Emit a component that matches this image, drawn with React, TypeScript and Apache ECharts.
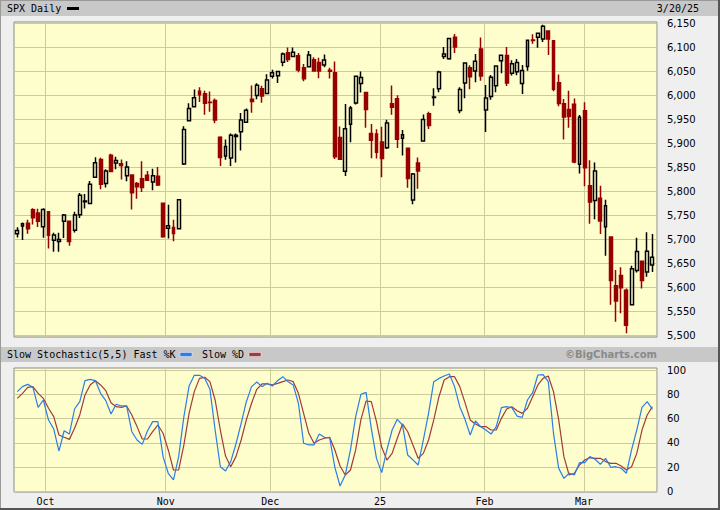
import React, { useEffect, useRef } from "react";
import * as echarts from "echarts";

const dates = [
  "2024-09-23","2024-09-24","2024-09-25","2024-09-26","2024-09-27","2024-09-30",
  "2024-10-01","2024-10-02","2024-10-03","2024-10-04","2024-10-07","2024-10-08","2024-10-09","2024-10-10","2024-10-11","2024-10-14","2024-10-15","2024-10-16","2024-10-17","2024-10-18","2024-10-21","2024-10-22","2024-10-23","2024-10-24","2024-10-25","2024-10-28","2024-10-29","2024-10-30","2024-10-31",
  "2024-11-01","2024-11-04","2024-11-05","2024-11-06","2024-11-07","2024-11-08","2024-11-11","2024-11-12","2024-11-13","2024-11-14","2024-11-15","2024-11-18","2024-11-19","2024-11-20","2024-11-21","2024-11-22","2024-11-25","2024-11-26","2024-11-27","2024-11-29",
  "2024-12-02","2024-12-03","2024-12-04","2024-12-05","2024-12-06","2024-12-09","2024-12-10","2024-12-11","2024-12-12","2024-12-13","2024-12-16","2024-12-17","2024-12-18","2024-12-19","2024-12-20","2024-12-23","2024-12-24","2024-12-26","2024-12-27","2024-12-30","2024-12-31",
  "2025-01-02","2025-01-03","2025-01-06","2025-01-07","2025-01-08","2025-01-10","2025-01-13","2025-01-14","2025-01-15","2025-01-16","2025-01-17","2025-01-21","2025-01-22","2025-01-23","2025-01-24","2025-01-27","2025-01-28","2025-01-29","2025-01-30","2025-01-31",
  "2025-02-03","2025-02-04","2025-02-05","2025-02-06","2025-02-07","2025-02-10","2025-02-11","2025-02-12","2025-02-13","2025-02-14","2025-02-18","2025-02-19","2025-02-20","2025-02-21","2025-02-24","2025-02-25","2025-02-26","2025-02-27","2025-02-28",
  "2025-03-03","2025-03-04","2025-03-05","2025-03-06","2025-03-07","2025-03-10","2025-03-11","2025-03-12","2025-03-13","2025-03-14","2025-03-17","2025-03-18","2025-03-19","2025-03-20"
];

const opens = [
  5711.9,5727.9,5733.6,5762.2,5755.4,5726.5,
  5757.7,5698.2,5695.7,5737.8,5737.8,5719.1,5751.8,5778.4,5775.1,5829.8,5866.7,5816.6,5875.6,5859.4,5857.8,5832.7,5834.5,5816.6,5826.8,5833.9,5819.7,5832.0,5775.3,
  5723.2,5725.2,5722.4,5857.4,5947.2,5976.8,6008.9,6003.6,5985.7,5989.6,5912.8,5874.2,5870.0,5914.6,5924.4,5944.4,5992.3,6000.0,6014.1,6004.0,
  6040.1,6041.0,6069.4,6089.0,6081.4,6083.0,6057.6,6060.1,6074.3,6068.9,6063.8,6052.6,6047.6,5912.7,5842.0,5940.3,5984.6,6025.0,6006.2,5920.7,5919.7,
  5903.3,5891.1,5982.8,5993.3,5910.7,5890.0,5782.3,5859.4,5905.2,5962.0,5995.9,6014.1,6081.4,6076.4,6121.4,5969.0,6026.0,6057.7,6050.8,6096.8,
  5969.7,5998.1,6020.5,6072.2,6083.1,6046.4,6049.3,6025.1,6060.6,6115.5,6121.6,6117.8,6134.5,6114.1,6026.7,5982.7,5970.9,5981.9,5856.7,
  5968.3,5812.0,5781.4,5785.9,5726.6,5705.4,5603.7,5624.8,5594.4,5563.9,5635.6,5654.5,5632.4,5646.9
];

const highs = [
  5725.4,5735.3,5741.0,5765.0,5764.0,5765.1,
  5757.7,5714.0,5714.1,5753.0,5739.3,5757.6,5796.8,5795.0,5822.1,5871.4,5870.4,5846.5,5878.5,5872.2,5866.9,5863.0,5834.9,5820.0,5862.8,5842.9,5847.2,5850.9,5775.3,
  5772.5,5741.4,5783.4,5936.1,5983.8,6012.5,6017.3,6009.9,6008.2,5993.9,5915.3,5908.1,5920.7,5920.7,5963.4,5972.9,6020.8,6025.4,6020.2,6044.2,
  6053.6,6050.9,6089.8,6100.0,6100.0,6088.5,6065.4,6092.6,6079.7,6078.6,6085.2,6057.7,6070.7,5935.5,5982.1,5978.3,6040.1,6049.8,6006.2,5940.8,5929.7,
  5935.1,5949.3,6021.0,6000.7,5927.9,5890.7,5838.7,5871.0,5960.6,5966.0,6015.0,6051.5,6100.8,6118.7,6128.2,6017.2,6069.1,6062.8,6086.6,6120.9,
  6022.1,6042.5,6062.9,6084.0,6101.3,6073.4,6076.3,6063.4,6116.9,6127.5,6129.6,6147.4,6134.5,6114.8,6043.6,5992.6,6009.8,5993.7,5959.4,
  5986.1,5865.1,5860.6,5812.1,5783.0,5705.4,5636.3,5642.2,5597.8,5645.3,5703.5,5654.5,5715.3,5711.2
];

const lows = [
  5704.2,5699.0,5712.0,5731.0,5726.0,5703.5,
  5681.3,5674.5,5674.5,5703.0,5686.9,5714.6,5745.0,5764.8,5775.1,5829.8,5804.5,5808.3,5840.3,5846.1,5824.8,5821.2,5762.4,5784.9,5799.0,5823.1,5802.6,5811.3,5703.9,
  5702.0,5696.5,5722.1,5855.0,5947.2,5976.8,5986.7,5960.0,5965.9,5942.3,5853.0,5865.9,5853.0,5860.6,5885.4,5944.4,5963.9,5992.3,5984.9,6004.0,
  6035.3,6026.3,6061.1,6070.0,6080.0,6048.6,6029.9,6060.1,6051.3,6035.8,6059.1,6035.2,5867.8,5866.1,5832.3,5902.6,5981.4,6006.2,5932.9,5869.2,5868.9,
  5829.5,5888.7,5960.0,5890.7,5874.8,5807.8,5773.3,5805.5,5905.2,5930.2,5978.4,6006.9,6076.1,6074.7,6088.7,5962.9,5994.3,6013.0,6027.5,6030.9,
  5923.9,5990.9,6007.0,6046.3,6020.0,6041.7,6042.3,6003.0,6051.7,6107.6,6099.5,6111.2,6084.6,6008.6,5977.8,5908.5,5932.7,5858.8,5837.7,
  5810.9,5732.6,5742.4,5711.6,5666.3,5564.0,5528.4,5546.1,5504.7,5563.9,5631.1,5597.8,5622.2,5632.4
];

const closes = [
  5718.6,5732.9,5722.3,5745.4,5738.2,5762.5,
  5708.8,5709.5,5699.9,5751.1,5695.9,5751.1,5792.0,5780.1,5815.0,5859.9,5815.3,5842.5,5841.5,5864.7,5854.0,5851.2,5797.4,5809.9,5808.1,5823.5,5832.9,5813.7,5705.5,
  5728.8,5712.7,5782.8,5929.0,5973.1,5995.5,6001.4,5984.0,5985.4,5949.2,5870.6,5893.6,5917.0,5917.1,5948.7,5969.3,5987.4,6021.6,5998.7,6032.4,
  6047.2,6049.9,6086.5,6075.1,6090.3,6052.9,6034.9,6084.2,6051.3,6051.1,6074.1,6050.6,5872.2,5867.1,5930.9,5974.1,6040.0,6037.6,5970.8,5906.9,5881.6,
  5868.6,5942.5,5975.4,5909.0,5918.3,5827.0,5836.2,5842.9,5949.9,5937.3,5996.7,6049.2,6086.4,6118.7,6101.2,6012.3,6067.7,6039.3,6071.2,6040.5,
  5994.6,6037.9,6061.5,6083.6,6026.0,6066.4,6068.5,6052.0,6115.1,6114.6,6129.6,6144.2,6117.5,6013.1,5983.3,5955.3,5956.1,5861.6,5954.5,
  5849.7,5778.2,5842.6,5738.5,5770.2,5614.6,5572.1,5599.3,5521.5,5638.9,5675.1,5614.7,5675.3,5662.9
];

const fastK = [
  82.2,86.3,88.2,85.7,69.3,75.3,58.8,51.4,33.3,50.0,47.3,67.9,73.9,91.2,92.3,91.2,80.8,74.8,63.8,71.8,
  70.4,70.4,49.2,42.4,38.8,49.8,57.5,57.5,28.7,15.0,9.5,28.7,61.6,86.8,95.6,95.6,93.2,84.1,50.6,20.4,
  16.9,24.6,39.1,56.1,73.9,86.3,90.1,86.3,89.0,86.8,91.2,94.5,90.4,87.7,72.6,39.7,38.3,38.3,47.3,44.6,
  44.3,19.9,4.5,13.6,34.2,61.6,80.0,81.6,52.0,27.3,15.5,34.2,50.6,59.4,54.7,30.0,26.0,21.8,42.4,64.3,
  90.4,93.1,95.1,96.7,86.3,69.8,59.4,46.5,58.0,53.4,50.6,47.3,53.4,69.0,69.8,69.0,62.1,61.0,75.3,81.3,
  95.9,96.2,90.4,47.9,19.1,10.8,15.0,13.6,23.7,23.7,28.7,26.5,22.4,27.3,19.9,20.4,19.1,15.0,34.2,50.6,
  69.3,73.9,67.6
];

const slowD = [
  76.7,80.8,85.7,86.3,80.8,76.7,68.5,61.6,46.5,44.6,42.9,52.0,63.0,79.4,87.7,91.2,87.7,83.0,73.1,69.8,
  69.3,70.4,63.0,53.4,43.2,43.2,49.2,54.7,47.9,34.2,17.7,17.7,38.3,64.3,82.2,93.1,94.0,90.4,75.3,50.6,
  29.2,20.4,28.7,42.4,58.9,72.6,84.1,88.5,88.5,87.7,89.0,90.4,91.8,90.4,80.8,64.3,47.9,39.7,42.4,43.8,
  44.6,34.2,21.0,13.6,17.7,34.2,58.9,74.5,73.9,57.5,36.4,25.9,31.4,43.8,55.6,49.2,38.3,27.3,31.4,42.4,
  58.9,78.0,91.8,94.5,94.5,86.3,73.1,58.9,55.6,53.4,53.4,50.6,50.6,60.2,67.9,69.8,66.5,64.3,68.5,78.0,
  87.7,93.1,95.1,82.2,58.9,28.7,13.6,15.0,21.8,25.9,27.9,27.3,27.3,24.6,23.2,23.2,21.0,17.7,20.4,31.4,
  50.6,63.0,69.8
];

const monthLabels: { [d: string]: string } = {
  "2024-10-01": "Oct",
  "2024-11-01": "Nov",
  "2024-12-02": "Dec",
  "2025-01-02": "25",
  "2025-02-03": "Feb",
  "2025-03-03": "Mar"
};

const priceMin = 5500;
const priceMax = 6150;
const priceStep = 50;
const stochMin = 0;
const stochMax = 100;
const stochStep = 20;

export default function App() {
  const ref = useRef<HTMLDivElement>(null);

  useEffect(() => {
    document.body.style.margin = "0";
    const chart = echarts.init(ref.current as HTMLDivElement, null, {
      renderer: "svg",
      width: 720,
      height: 510
    });

    const isMonthStart = (i: number) => monthLabels[dates[i]] !== undefined;
    const gridColor = "#cbcb9b";
    const plotBg = "#fefdcc";
    const mono = '"DejaVu Sans Mono", monospace';
    const sans = '"DejaVu Sans", sans-serif';
    const PL = 14;
    const PW = 643;
    const CL = 14.7;
    const CW = 640.3;
    const blue = "#2a7ee6";
    const red = "#a23b3b";

    const hiddenCat = (g: number) => ({
      type: "category",
      gridIndex: g,
      data: dates,
      boundaryGap: true,
      show: false
    });
    const monthCat = (g: number, labels: boolean) => ({
      type: "category",
      gridIndex: g,
      data: dates,
      boundaryGap: true,
      axisLine: { show: false },
      axisTick: { show: false },
      axisLabel: labels
        ? {
            show: true,
            interval: (i: number) => isMonthStart(i),
            formatter: (v: string) => "{m|" + (monthLabels[v] || "") + "}",
            margin: 4,
            rich: {
              m: {
                fontFamily: mono,
                fontSize: 10,
                color: "#000",
                padding: [0, 5, 0, 0]
              }
            }
          }
        : { show: false },
      splitLine: {
        show: true,
        interval: (i: number) => isMonthStart(i),
        lineStyle: { color: gridColor, width: 1 }
      }
    });

    const option = {
      animation: false,
      backgroundColor: "#efefef",
      grid: [
        { left: PL, top: 22, width: PW, height: 315, show: true, backgroundColor: plotBg, borderColor: "#8a8a8a", borderWidth: 1 },
        { left: PL, top: 23.5, width: PW, height: 312 },
        { left: CL, top: 23.5, width: CW, height: 312 },
        { left: PL, top: 368, width: PW, height: 124, show: true, backgroundColor: plotBg, borderColor: "#8a8a8a", borderWidth: 1 },
        { left: PL, top: 370, width: PW, height: 121.5 },
        { left: CL, top: 370, width: CW, height: 121.5 }
      ],
      xAxis: [
        monthCat(0, false),
        hiddenCat(1),
        hiddenCat(2),
        monthCat(3, true),
        hiddenCat(4),
        hiddenCat(5)
      ],
      yAxis: [
        { type: "value", gridIndex: 0, min: 0, max: 1, show: false },
        {
          type: "value",
          gridIndex: 1,
          min: priceMin,
          max: priceMax,
          interval: priceStep,
          position: "right",
          axisLine: { show: false },
          axisTick: { show: false },
          axisLabel: {
            margin: 10,
            fontFamily: sans,
            fontSize: 10,
            color: "#000",
            formatter: (v: number) => v.toLocaleString("en-US")
          },
          splitLine: { show: true, lineStyle: { color: gridColor, width: 1 } }
        },
        { type: "value", gridIndex: 2, min: priceMin, max: priceMax, show: false },
        { type: "value", gridIndex: 3, min: 0, max: 1, show: false },
        {
          type: "value",
          gridIndex: 4,
          min: stochMin,
          max: stochMax,
          interval: stochStep,
          position: "right",
          axisLine: { show: false },
          axisTick: { show: false },
          axisLabel: { margin: 10, fontFamily: sans, fontSize: 10, color: "#000" },
          splitLine: { show: true, lineStyle: { color: gridColor, width: 1 } }
        },
        { type: "value", gridIndex: 5, min: stochMin, max: stochMax, show: false }
      ],
      series: [
        {
          type: "candlestick",
          xAxisIndex: 2,
          yAxisIndex: 2,
          barWidth: 3.4,
          data: dates.map((_, i) => [opens[i], closes[i], lows[i], highs[i]]),
          itemStyle: {
            color: "rgba(0,0,0,0)",
            color0: "#990000",
            borderColor: "#000000",
            borderColor0: "#990000",
            borderWidth: 1.5
          }
        },
        {
          type: "line",
          name: "Slow %D",
          xAxisIndex: 5,
          yAxisIndex: 5,
          data: slowD,
          symbol: "none",
          lineStyle: { color: red, width: 1.2 }
        },
        {
          type: "line",
          name: "Fast %K",
          xAxisIndex: 5,
          yAxisIndex: 5,
          data: fastK,
          symbol: "none",
          lineStyle: { color: blue, width: 1.2 }
        }
      ],
      graphic: [
        { type: "rect", shape: { x: 1, y: 1, width: 717, height: 15 }, style: { fill: "#c8c8c8" }, silent: true },
        { type: "rect", shape: { x: 1, y: 347, width: 717, height: 15 }, style: { fill: "#c8c8c8" }, silent: true },
        {
          type: "text",
          x: 7,
          y: 8.5,
          style: { text: "SPX Daily", font: "10px " + mono, fill: "#000", textVerticalAlign: "middle", verticalAlign: "middle" }
        },
        { type: "rect", shape: { x: 67, y: 7, width: 12, height: 3 }, style: { fill: "#000" } },
        {
          type: "text",
          x: 699,
          y: 8.5,
          style: { text: "3/20/25", font: "10px " + mono, fill: "#000", textAlign: "right", align: "right", textVerticalAlign: "middle", verticalAlign: "middle" }
        },
        {
          type: "text",
          x: 7,
          y: 354.5,
          style: { text: "Slow Stochastic(5,5) Fast %K", font: "10px " + mono, fill: "#000", textVerticalAlign: "middle", verticalAlign: "middle" }
        },
        { type: "rect", shape: { x: 180, y: 352.5, width: 12, height: 4 }, style: { fill: blue, stroke: "#eef4ff", lineWidth: 0.5 } },
        {
          type: "text",
          x: 202,
          y: 354.5,
          style: { text: "Slow %D", font: "10px " + mono, fill: "#000", textVerticalAlign: "middle", verticalAlign: "middle" }
        },
        { type: "rect", shape: { x: 249, y: 352.5, width: 12, height: 4 }, style: { fill: red, stroke: "#fff0f0", lineWidth: 0.5 } },
        {
          type: "text",
          x: 657,
          y: 354.5,
          style: { text: "\u00a9BigCharts.com", font: "bold 10px " + sans, fill: "#8a8a8a", textAlign: "right", align: "right", textVerticalAlign: "middle", verticalAlign: "middle" }
        },
        { type: "line", shape: { x1: 0.5, y1: 0, x2: 0.5, y2: 510 }, style: { stroke: "#9a9a9a", lineWidth: 1 } },
        { type: "line", shape: { x1: 0, y1: 0.5, x2: 720, y2: 0.5 }, style: { stroke: "#9a9a9a", lineWidth: 1 } },
        { type: "line", shape: { x1: 719, y1: 0, x2: 719, y2: 510 }, style: { stroke: "#555555", lineWidth: 2 } },
        { type: "line", shape: { x1: 0, y1: 509, x2: 720, y2: 509 }, style: { stroke: "#555555", lineWidth: 2 } }
      ]
    };

    chart.setOption(option as any);
    return () => {
      chart.dispose();
    };
  }, []);

  return (
    <div
      ref={ref}
      style={{ position: "absolute", left: 0, top: 0, width: 720, height: 510 }}
    />
  );
}
